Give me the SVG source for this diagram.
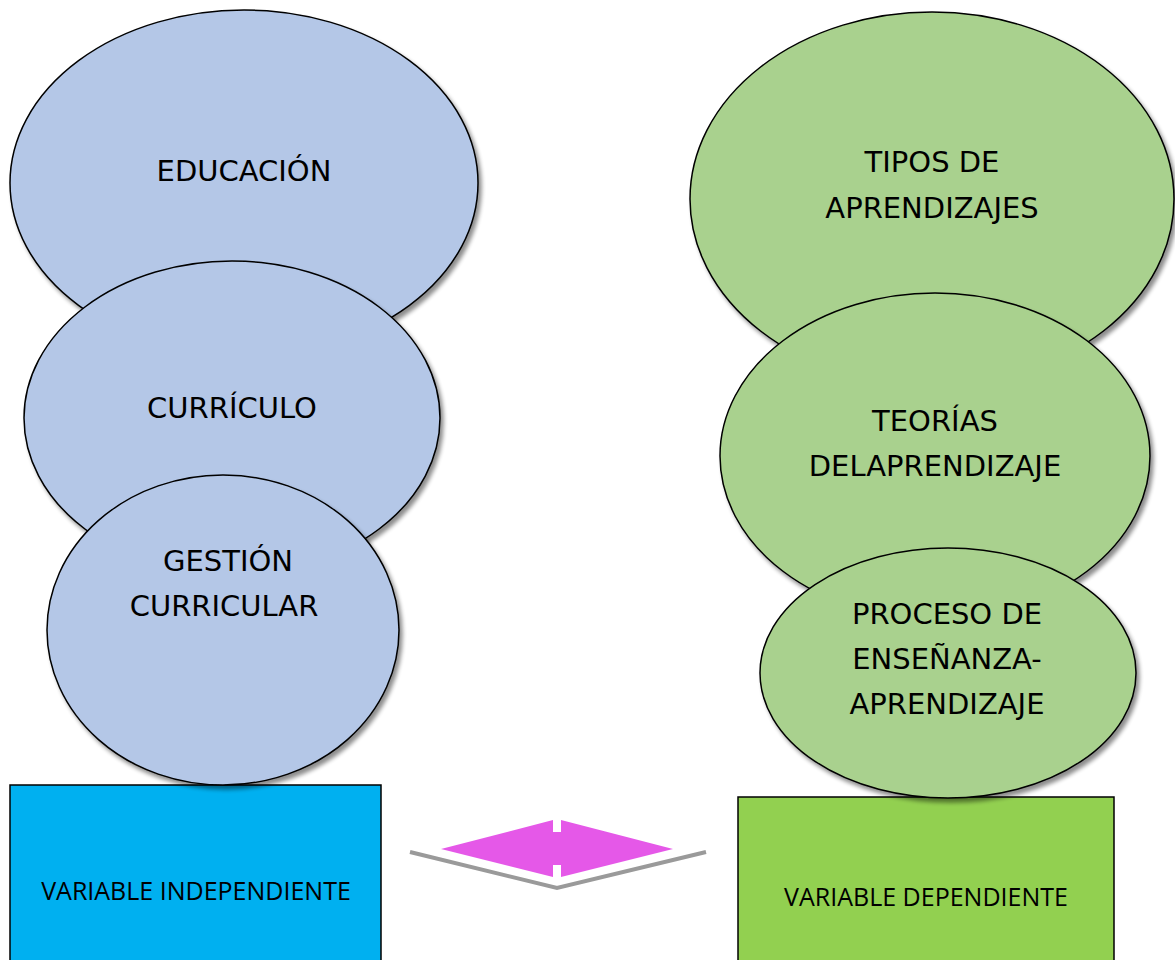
<svg xmlns="http://www.w3.org/2000/svg" width="1175" height="960" viewBox="0 0 1175 960">
<defs>
<filter id="sh" x="-10%" y="-10%" width="130%" height="130%">
<feGaussianBlur in="SourceAlpha" stdDeviation="2"/>
<feOffset dx="3" dy="4" result="b"/>
<feComponentTransfer><feFuncA type="linear" slope="0.45"/></feComponentTransfer>
<feMerge><feMergeNode/><feMergeNode in="SourceGraphic"/></feMerge>
</filter>
<style>
.eb{fill:#B4C7E7;stroke:#000;stroke-width:1.5}
.eg{fill:#A9D18E;stroke:#000;stroke-width:1.5}
.t{font-family:"DejaVu Sans","Liberation Sans",sans-serif;font-size:29px;fill:#000;text-anchor:middle}
.bt{font-family:"Open Sans","Liberation Sans",sans-serif;font-size:25px;fill:#000;text-anchor:middle}
</style>
</defs>
<rect width="1175" height="960" fill="#fff"/>
<g id="box-independiente">
<rect x="10" y="785" width="371" height="180" fill="#00B0F0" stroke="#000" stroke-width="1.5"/>
<text class="bt" x="196" y="900">VARIABLE INDEPENDIENTE</text>
</g>
<g id="box-dependiente">
<rect x="738" y="797" width="376" height="170" fill="#92D050" stroke="#000" stroke-width="1.5"/>
<text class="bt" x="926" y="906">VARIABLE DEPENDIENTE</text>
</g>
<g id="educacion">
<ellipse class="eb" cx="244" cy="183" rx="234" ry="173" filter="url(#sh)"/>
<text class="t" x="244" y="181">EDUCACIÓN</text>
</g>
<g id="curriculo">
<ellipse class="eb" cx="232" cy="418" rx="208" ry="157" filter="url(#sh)"/>
<text class="t" x="232" y="418">CURRÍCULO</text>
</g>
<g id="gestion">
<ellipse class="eb" cx="223" cy="630" rx="176" ry="155" filter="url(#sh)"/>
<text class="t" x="228" y="571">GESTIÓN</text>
<text class="t" x="224" y="616">CURRICULAR</text>
</g>
<g id="tipos">
<ellipse class="eg" cx="932" cy="199" rx="242" ry="187" filter="url(#sh)"/>
<text class="t" x="932" y="172">TIPOS DE</text>
<text class="t" x="932" y="218">APRENDIZAJES</text>
</g>
<g id="teorias">
<ellipse class="eg" cx="935" cy="456" rx="215" ry="163" filter="url(#sh)"/>
<text class="t" x="935" y="431">TEORÍAS</text>
<text class="t" x="935" y="476">DELAPRENDIZAJE</text>
</g>
<g id="proceso">
<ellipse class="eg" cx="948" cy="673" rx="188" ry="125" filter="url(#sh)"/>
<text class="t" x="947" y="624">PROCESO DE</text>
<text class="t" x="947" y="669">ENSEÑANZA-</text>
<text class="t" x="947" y="714">APRENDIZAJE</text>
</g>
<g id="connectors">
<polyline points="410,852 557,888 706,852" fill="none" stroke="#9a9a9a" stroke-width="4"/>
<polygon points="441,849 553,820 553,832 561,832 561,820 673,849 561,877 561,865 553,865 553,877" fill="#E558E8"/>
</g>
</svg>
